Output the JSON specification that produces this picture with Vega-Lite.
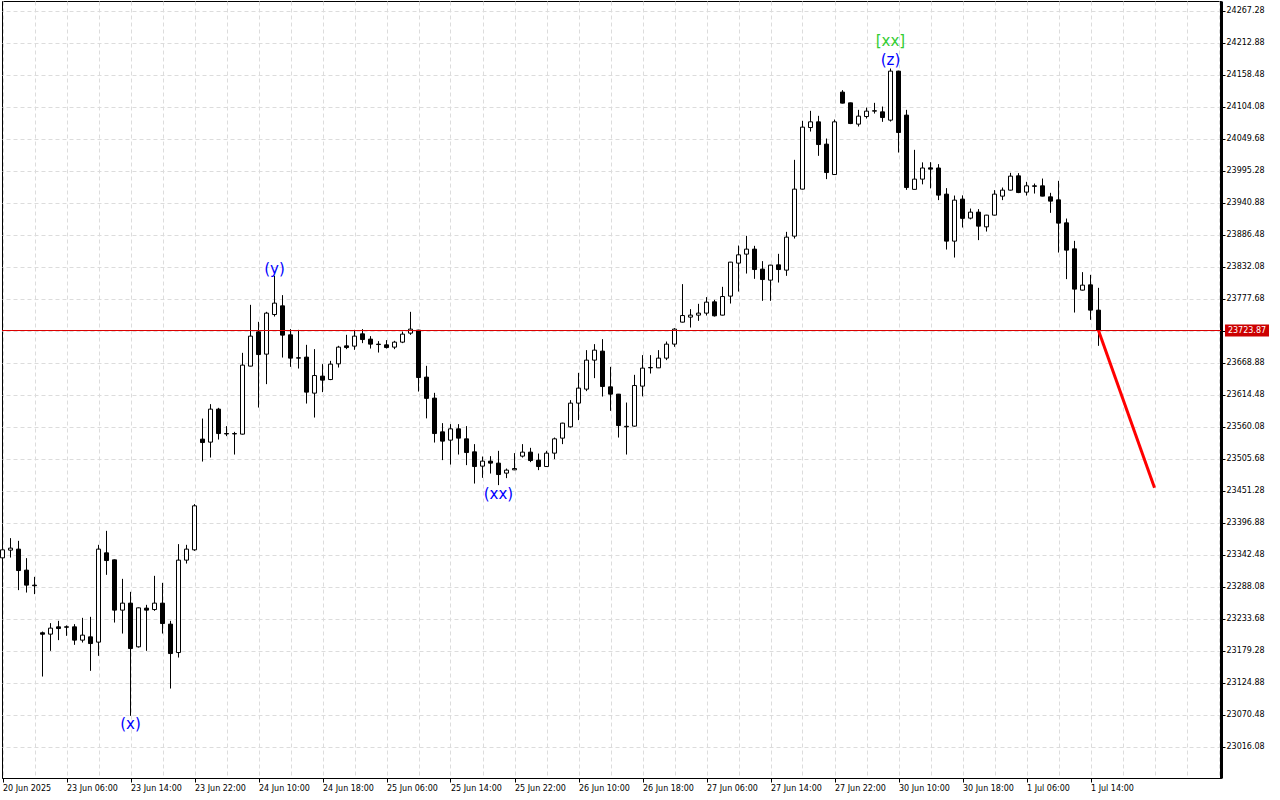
{
  "$schema": "https://vega.github.io/schema/vega-lite/v6.json",
  "width": 1219,
  "height": 777,
  "autosize": {"type": "none"},
  "padding": {"left": 2, "top": 1, "right": 59, "bottom": 22},
  "background": "white",
  "resolve": {"axis": {"x": "independent", "y": "independent"}},
  "config": {
    "view": {"stroke": "black", "strokeWidth": 1},
    "scale": {"continuousPadding": 0},
    "axis": {"title": null, "labelFont": "DejaVu Sans", "labelFontSize": 8, "labelColor": "black", "labelOverlap": false, "labelFlush": false, "labelBound": false}
  },
  "datasets": {
    "candles": [
      {"i":0,"o":23337.4,"h":23361.2,"l":23332.3,"c":23351.0},
      {"i":1,"o":23350.5,"h":23370.9,"l":23337.9,"c":23353.9},
      {"i":2,"o":23352.2,"h":23366.3,"l":23282.5,"c":23315.8},
      {"i":3,"o":23316.5,"h":23336.9,"l":23278.4,"c":23291.0},
      {"i":4,"o":23291.0,"h":23305.1,"l":23275.7,"c":23290.0},
      {"i":5,"o":23210.0,"h":23212.1,"l":23135.6,"c":23207.5},
      {"i":6,"o":23207.7,"h":23226.4,"l":23179.3,"c":23217.9},
      {"i":7,"o":23220.1,"h":23230.3,"l":23197.5,"c":23217.2},
      {"i":8,"o":23220.1,"h":23222.5,"l":23204.8,"c":23219.5},
      {"i":9,"o":23220.1,"h":23224.7,"l":23189.5,"c":23197.5},
      {"i":10,"o":23197.5,"h":23235.4,"l":23193.4,"c":23206.0},
      {"i":11,"o":23203.1,"h":23237.1,"l":23145.3,"c":23191.7},
      {"i":12,"o":23194.1,"h":23359.5,"l":23170.8,"c":23352.2},
      {"i":13,"o":23345.9,"h":23383.3,"l":23308.5,"c":23332.8},
      {"i":14,"o":23334.0,"h":23334.5,"l":23227.4,"c":23248.5},
      {"i":15,"o":23248.5,"h":23301.7,"l":23208.7,"c":23260.4},
      {"i":16,"o":23260.4,"h":23279.6,"l":23068.8,"c":23183.2},
      {"i":17,"o":23186.1,"h":23253.0,"l":23184.9,"c":23252.4},
      {"i":18,"o":23251.9,"h":23257.5,"l":23179.3,"c":23248.5},
      {"i":19,"o":23249.5,"h":23306.8,"l":23247.3,"c":23260.4},
      {"i":20,"o":23260.4,"h":23294.9,"l":23208.7,"c":23225.7},
      {"i":21,"o":23224.7,"h":23230.3,"l":23115.2,"c":23174.7},
      {"i":22,"o":23176.4,"h":23360.7,"l":23167.9,"c":23333.5},
      {"i":23,"o":23333.5,"h":23359.5,"l":23327.7,"c":23352.2},
      {"i":24,"o":23351.0,"h":23428.7,"l":23349.3,"c":23425.8},
      {"i":25,"o":23539.2,"h":23574.2,"l":23501.1,"c":23533.4},
      {"i":26,"o":23534.1,"h":23598.7,"l":23507.9,"c":23590.2},
      {"i":27,"o":23590.2,"h":23592.4,"l":23538.5,"c":23548.7},
      {"i":28,"o":23548.7,"h":23561.3,"l":23544.3,"c":23548.0},
      {"i":29,"o":23548.0,"h":23551.6,"l":23513.0,"c":23548.7},
      {"i":30,"o":23547.7,"h":23685.9,"l":23547.0,"c":23665.0},
      {"i":31,"o":23663.3,"h":23767.5,"l":23663.0,"c":23714.3},
      {"i":32,"o":23721.6,"h":23738.6,"l":23592.9,"c":23683.0},
      {"i":33,"o":23683.7,"h":23755.6,"l":23632.7,"c":23753.4},
      {"i":34,"o":23751.0,"h":23816.8,"l":23747.6,"c":23770.4},
      {"i":35,"o":23765.8,"h":23784.0,"l":23677.9,"c":23716.0},
      {"i":36,"o":23716.5,"h":23726.2,"l":23662.1,"c":23676.9},
      {"i":37,"o":23677.5,"h":23725.0,"l":23659.2,"c":23676.9},
      {"i":38,"o":23678.6,"h":23699.5,"l":23599.7,"c":23619.1},
      {"i":39,"o":23617.4,"h":23692.2,"l":23575.9,"c":23647.3},
      {"i":40,"o":23646.3,"h":23666.7,"l":23619.1,"c":23639.5},
      {"i":41,"o":23640.5,"h":23672.3,"l":23639.5,"c":23666.7},
      {"i":42,"o":23667.2,"h":23697.8,"l":23660.9,"c":23695.6},
      {"i":43,"o":23697.8,"h":23716.5,"l":23692.2,"c":23694.9},
      {"i":44,"o":23697.3,"h":23725.0,"l":23691.0,"c":23714.3},
      {"i":45,"o":23718.2,"h":23726.2,"l":23702.4,"c":23708.5},
      {"i":46,"o":23709.2,"h":23714.3,"l":23693.2,"c":23700.7},
      {"i":47,"o":23700.7,"h":23705.8,"l":23686.4,"c":23700.0},
      {"i":48,"o":23699.5,"h":23707.5,"l":23693.2,"c":23694.9},
      {"i":49,"o":23695.6,"h":23706.3,"l":23692.2,"c":23704.1},
      {"i":50,"o":23704.1,"h":23722.1,"l":23702.4,"c":23717.7},
      {"i":51,"o":23719.4,"h":23755.6,"l":23716.5,"c":23726.2},
      {"i":52,"o":23724.5,"h":23725.0,"l":23620.1,"c":23643.9},
      {"i":53,"o":23644.6,"h":23663.8,"l":23574.5,"c":23608.5},
      {"i":54,"o":23608.9,"h":23617.9,"l":23533.4,"c":23548.7},
      {"i":55,"o":23551.6,"h":23566.4,"l":23503.5,"c":23535.8},
      {"i":56,"o":23537.5,"h":23564.7,"l":23496.0,"c":23556.7},
      {"i":57,"o":23556.7,"h":23564.7,"l":23513.0,"c":23540.9},
      {"i":58,"o":23539.7,"h":23561.3,"l":23495.0,"c":23516.4},
      {"i":59,"o":23517.6,"h":23530.7,"l":23463.7,"c":23492.6},
      {"i":60,"o":23493.3,"h":23509.6,"l":23473.4,"c":23501.8},
      {"i":61,"o":23501.8,"h":23510.3,"l":23480.7,"c":23498.4},
      {"i":62,"o":23498.4,"h":23519.3,"l":23461.0,"c":23479.0},
      {"i":63,"o":23481.4,"h":23489.2,"l":23472.9,"c":23486.5},
      {"i":64,"o":23487.0,"h":23515.4,"l":23486.5,"c":23489.2},
      {"i":65,"o":23510.3,"h":23530.7,"l":23507.9,"c":23517.1},
      {"i":66,"o":23517.1,"h":23524.4,"l":23500.1,"c":23502.8},
      {"i":67,"o":23503.5,"h":23514.7,"l":23486.5,"c":23492.6},
      {"i":68,"o":23492.6,"h":23519.3,"l":23492.0,"c":23515.4},
      {"i":69,"o":23515.4,"h":23541.9,"l":23505.2,"c":23539.7},
      {"i":70,"o":23540.9,"h":23567.0,"l":23530.7,"c":23566.4},
      {"i":71,"o":23560.1,"h":23605.5,"l":23558.9,"c":23600.4},
      {"i":72,"o":23600.4,"h":23651.9,"l":23571.5,"c":23625.9},
      {"i":73,"o":23624.2,"h":23690.5,"l":23620.8,"c":23673.5},
      {"i":74,"o":23673.5,"h":23700.7,"l":23642.9,"c":23690.5},
      {"i":75,"o":23688.8,"h":23709.2,"l":23611.6,"c":23628.6},
      {"i":76,"o":23628.1,"h":23662.1,"l":23587.3,"c":23615.7},
      {"i":77,"o":23615.7,"h":23616.0,"l":23541.9,"c":23562.3},
      {"i":78,"o":23560.1,"h":23601.4,"l":23513.0,"c":23561.0},
      {"i":79,"o":23561.3,"h":23648.5,"l":23560.5,"c":23630.3},
      {"i":80,"o":23629.3,"h":23682.0,"l":23611.9,"c":23659.9},
      {"i":81,"o":23660.4,"h":23682.0,"l":23650.7,"c":23661.0},
      {"i":82,"o":23660.4,"h":23690.5,"l":23660.0,"c":23676.9},
      {"i":83,"o":23676.9,"h":23705.1,"l":23673.5,"c":23700.7},
      {"i":84,"o":23700.7,"h":23727.9,"l":23696.1,"c":23726.2},
      {"i":85,"o":23738.1,"h":23802.7,"l":23737.5,"c":23749.3},
      {"i":86,"o":23746.6,"h":23760.2,"l":23728.9,"c":23750.0},
      {"i":87,"o":23750.0,"h":23769.2,"l":23740.3,"c":23753.4},
      {"i":88,"o":23753.4,"h":23780.6,"l":23749.3,"c":23772.1},
      {"i":89,"o":23772.6,"h":23776.0,"l":23747.6,"c":23748.8},
      {"i":90,"o":23750.0,"h":23798.1,"l":23749.5,"c":23781.6},
      {"i":91,"o":23782.3,"h":23840.5,"l":23769.7,"c":23840.1},
      {"i":92,"o":23838.4,"h":23868.3,"l":23790.1,"c":23852.5},
      {"i":93,"o":23853.7,"h":23884.8,"l":23820.7,"c":23862.2},
      {"i":94,"o":23862.2,"h":23867.8,"l":23811.7,"c":23827.5},
      {"i":95,"o":23828.2,"h":23841.8,"l":23774.3,"c":23810.5},
      {"i":96,"o":23809.5,"h":23835.5,"l":23774.3,"c":23835.0},
      {"i":97,"o":23835.5,"h":23854.2,"l":23805.4,"c":23827.5},
      {"i":98,"o":23826.5,"h":23891.6,"l":23816.8,"c":23882.6},
      {"i":99,"o":23884.3,"h":24014.0,"l":23880.2,"c":23964.2},
      {"i":100,"o":23964.2,"h":24080.3,"l":23963.5,"c":24069.6},
      {"i":101,"o":24068.9,"h":24097.3,"l":24062.1,"c":24078.6},
      {"i":102,"o":24078.6,"h":24088.8,"l":24020.8,"c":24040.0},
      {"i":103,"o":24040.7,"h":24050.2,"l":23981.2,"c":23992.4},
      {"i":104,"o":23989.0,"h":24082.5,"l":23988.5,"c":24078.6},
      {"i":105,"o":24129.1,"h":24132.5,"l":24110.0,"c":24110.4},
      {"i":106,"o":24110.9,"h":24111.2,"l":24074.7,"c":24075.7},
      {"i":107,"o":24074.7,"h":24099.0,"l":24070.6,"c":24088.3},
      {"i":108,"o":24087.6,"h":24102.9,"l":24084.2,"c":24096.8},
      {"i":109,"o":24096.8,"h":24110.9,"l":24092.7,"c":24097.5},
      {"i":110,"o":24095.6,"h":24104.6,"l":24078.6,"c":24085.9},
      {"i":111,"o":24081.5,"h":24169.2,"l":24079.1,"c":24164.8},
      {"i":112,"o":24164.8,"h":24165.5,"l":24026.4,"c":24060.4},
      {"i":113,"o":24090.0,"h":24099.0,"l":23963.0,"c":23966.9},
      {"i":114,"o":23963.8,"h":24031.0,"l":23963.5,"c":23981.2},
      {"i":115,"o":23981.2,"h":24009.7,"l":23972.3,"c":24000.1},
      {"i":116,"o":24000.4,"h":24010.0,"l":23965.5,"c":23998.2},
      {"i":117,"o":24000.1,"h":24006.7,"l":23945.5,"c":23954.0},
      {"i":118,"o":23955.7,"h":23965.9,"l":23861.5,"c":23875.8},
      {"i":119,"o":23875.8,"h":23953.3,"l":23847.9,"c":23945.5},
      {"i":120,"o":23947.2,"h":23953.6,"l":23898.9,"c":23914.5},
      {"i":121,"o":23914.9,"h":23931.2,"l":23912.8,"c":23925.1},
      {"i":122,"o":23925.1,"h":23930.2,"l":23877.5,"c":23901.3},
      {"i":123,"o":23900.1,"h":23920.5,"l":23892.1,"c":23920.0},
      {"i":124,"o":23920.0,"h":23962.5,"l":23919.5,"c":23955.7},
      {"i":125,"o":23952.3,"h":23966.9,"l":23945.5,"c":23962.5},
      {"i":126,"o":23962.5,"h":23991.9,"l":23962.0,"c":23986.3},
      {"i":127,"o":23986.8,"h":23991.4,"l":23957.4,"c":23958.4},
      {"i":128,"o":23959.1,"h":23976.6,"l":23953.3,"c":23969.8},
      {"i":129,"o":23969.8,"h":23973.7,"l":23956.7,"c":23969.0},
      {"i":130,"o":23969.8,"h":23982.2,"l":23952.0,"c":23952.3},
      {"i":131,"o":23951.1,"h":23957.9,"l":23923.9,"c":23943.8},
      {"i":132,"o":23946.0,"h":23978.3,"l":23856.4,"c":23906.4},
      {"i":133,"o":23906.9,"h":23914.2,"l":23811.2,"c":23860.5},
      {"i":134,"o":23862.7,"h":23876.3,"l":23754.4,"c":23794.2},
      {"i":135,"o":23792.5,"h":23823.1,"l":23792.0,"c":23801.0},
      {"i":136,"o":23801.5,"h":23818.5,"l":23742.0,"c":23758.5},
      {"i":137,"o":23758.5,"h":23796.4,"l":23697.8,"c":23723.87}
    ],
    "forecast": [
      {"i":137,"p":23723.87},
      {"i":144,"p":23456.4}
    ],
    "current": [
      {"p":23723.87,"label":"23723.87"}
    ],
    "waves": [
      {"i":16,"p":23055.2,"t":"(x)","degree":"minute"},
      {"i":34,"p":23828.7,"t":"(y)","degree":"minute"},
      {"i":62,"p":23446.2,"t":"(xx)","degree":"minute"},
      {"i":111,"p":24184.0,"t":"(z)","degree":"minute"},
      {"i":111,"p":24216.3,"t":"[xx]","degree":"minor"}
    ]
  },
  "layer": [
    {
      "data": {"name": "candles"},
      "mark": {"type": "rule", "color": "black", "strokeWidth": 1},
      "encoding": {
        "x": {
          "field": "i", "type": "quantitative",
          "scale": {"domain": [-0.0625, 152.3125], "nice": false, "zero": false, "padding": 0},
          "axis": {
            "orient": "bottom",
            "values": [0,4,8,12,16,20,24,28,32,36,40,44,48,52,56,60,64,68,72,76,80,84,88,92,96,100,104,108,112,116,120,124,128,132,136,140,144,148,152],
            "grid": true, "gridColor": "#dcdcdc", "gridDash": [4, 3], "gridWidth": 1,
            "domainColor": "black", "domainWidth": 1,
            "tickColor": "black", "tickSize": 4,
            "tickOpacity": {"condition": {"test": "datum.value % 8 === 0 && datum.value <= 136", "value": 1}, "value": 0},
            "labelAlign": "left", "labelBaseline": "top", "labelPadding": 2,
            "labelOverlap": false, "labelFlush": false,
            "labelExpr": "(datum.value % 8 === 0 && datum.value <= 136) ? ['20 Jun 2025','23 Jun 06:00','23 Jun 14:00','23 Jun 22:00','24 Jun 10:00','24 Jun 18:00','25 Jun 06:00','25 Jun 14:00','25 Jun 22:00','26 Jun 10:00','26 Jun 18:00','27 Jun 06:00','27 Jun 14:00','27 Jun 22:00','30 Jun 10:00','30 Jun 18:00','1 Jul 06:00','1 Jul 14:00'][datum.value / 8] : ''"
          }
        },
        "y": {
          "field": "l", "type": "quantitative",
          "scale": {"domain": [22963.12, 24284.02], "nice": false, "zero": false},
          "axis": {
            "orient": "right",
            "values": [23016.08,23070.48,23124.88,23179.28,23233.68,23288.08,23342.48,23396.88,23451.28,23505.68,23560.08,23614.48,23668.88,23723.28,23777.68,23832.08,23886.48,23940.88,23995.28,24049.68,24104.08,24158.48,24212.88,24267.28],
            "format": ".2f",
            "grid": true, "gridColor": "#dcdcdc", "gridDash": [4, 3], "gridWidth": 1,
            "domainColor": "black", "domainWidth": 3,
            "tickColor": "black", "tickSize": 4,
            "labelAlign": "left", "labelBaseline": "middle", "labelPadding": 1,
            "labelOverlap": false, "labelFlush": false, "labelBound": false
          }
        },
        "y2": {"field": "h"}
      }
    },
    {
      "data": {"name": "candles"},
      "mark": {"type": "bar", "width": 4, "stroke": "black", "strokeWidth": 1},
      "encoding": {
        "x": {"field": "i", "type": "quantitative", "axis": null, "scale": {"domain": [-0.0625, 152.3125], "nice": false, "zero": false, "padding": 0}},
        "y": {"field": "o", "type": "quantitative", "axis": null, "scale": {"domain": [22963.12, 24284.02], "nice": false, "zero": false}},
        "y2": {"field": "c"},
        "fill": {"condition": {"test": "datum.c >= datum.o", "value": "white"}, "value": "black"}
      }
    },
    {
      "data": {"name": "current"},
      "mark": {"type": "rule", "color": "#dd0000", "strokeWidth": 1},
      "encoding": {
        "y": {"field": "p", "type": "quantitative", "axis": null, "scale": {"domain": [22963.12, 24284.02], "nice": false, "zero": false}}
      }
    },
    {
      "data": {"name": "forecast"},
      "mark": {"type": "line", "color": "#ff0000", "strokeWidth": 3},
      "encoding": {
        "x": {"field": "i", "type": "quantitative", "axis": null, "scale": {"domain": [-0.0625, 152.3125], "nice": false, "zero": false, "padding": 0}},
        "y": {"field": "p", "type": "quantitative", "axis": null, "scale": {"domain": [22963.12, 24284.02], "nice": false, "zero": false}}
      }
    },
    {
      "data": {"name": "waves"},
      "mark": {"type": "text", "font": "DejaVu Sans", "fontSize": 15, "align": "center", "baseline": "middle"},
      "encoding": {
        "x": {"field": "i", "type": "quantitative", "axis": null, "scale": {"domain": [-0.0625, 152.3125], "nice": false, "zero": false, "padding": 0}},
        "y": {"field": "p", "type": "quantitative", "axis": null, "scale": {"domain": [22963.12, 24284.02], "nice": false, "zero": false}},
        "text": {"field": "t"},
        "color": {"field": "degree", "type": "nominal", "scale": {"domain": ["minute", "minor"], "range": ["#0000ff", "#32cd32"]}, "legend": null}
      }
    },
    {
      "data": {"name": "current"},
      "mark": {"type": "point", "filled": true, "opacity": 1, "color": "#cc0000", "size": 576, "shape": "M-1.833,-0.5L1.833,-0.5L1.833,0.5L-1.833,0.5Z"},
      "encoding": {
        "x": {"datum": 155.5625, "type": "quantitative", "axis": null, "scale": {"domain": [-0.0625, 152.3125], "nice": false, "zero": false, "padding": 0}},
        "y": {"field": "p", "type": "quantitative", "axis": null, "scale": {"domain": [22963.12, 24284.02], "nice": false, "zero": false}}
      }
    },
    {
      "data": {"name": "current"},
      "mark": {"type": "text", "font": "DejaVu Sans", "fontSize": 8, "color": "white", "align": "center", "baseline": "middle"},
      "encoding": {
        "x": {"datum": 155.5625, "type": "quantitative", "axis": null, "scale": {"domain": [-0.0625, 152.3125], "nice": false, "zero": false, "padding": 0}},
        "y": {"field": "p", "type": "quantitative", "axis": null, "scale": {"domain": [22963.12, 24284.02], "nice": false, "zero": false}},
        "text": {"field": "label"}
      }
    }
  ]
}
